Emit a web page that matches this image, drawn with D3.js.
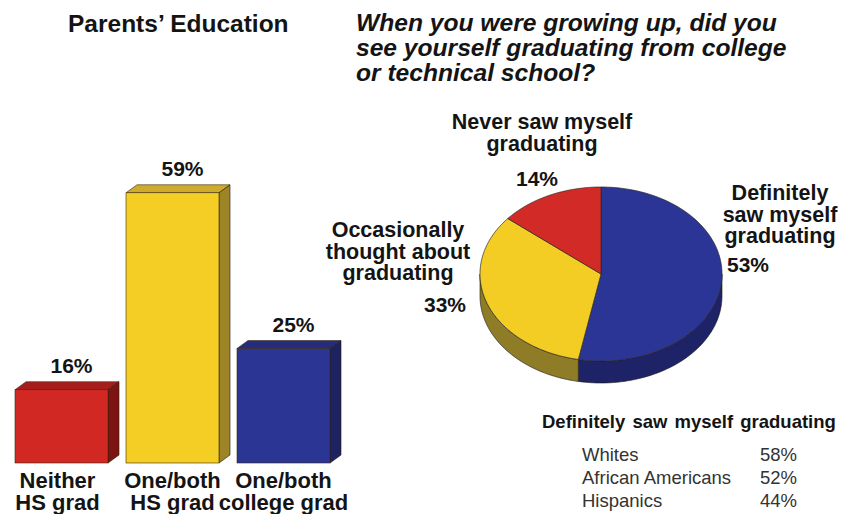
<!DOCTYPE html>
<html>
<head>
<meta charset="utf-8">
<script src="https://cdn.jsdelivr.net/npm/d3@7"></script>
<style>
  html, body { margin: 0; padding: 0; background: #ffffff; }
  svg { display: block; font-family: "Liberation Sans", Arial, sans-serif; }
</style>
</head>
<body>
<svg id="chart" width="843" height="514"></svg>
<script>
// Parents' education (bar chart)
const eduCategories = [["Neither", "HS grad"], ["One/both", "HS grad"], ["One/both", "college grad"]];
const eduValues = [16, 59, 25];
const eduFront = ["#d12824", "#f4cd25", "#2b3594"];
const eduTop = ["#a51e1b", "#cfab2c", "#252c7c"];
const eduSide = ["#7c1512", "#9c8427", "#1c2262"];

// Expectation of graduating (pie chart), drawn clockwise from 12 o'clock
const pieCategories = ["Definitely saw myself graduating", "Occasionally thought about graduating", "Never saw myself graduating"];
const pieValues = [53, 33, 14];
const pieTop = ["#2b3596", "#f4cd24", "#d22a26"];
const pieSide = ["#1e2266", "#8f7c27", "#8a1b18"];

// Breakdown table
const groupNames = ["Whites", "African Americans", "Hispanics"];
const groupValues = [58, 52, 44];

const svg = d3.select("#chart");
const ink = "#141414";

// ---------- titles ----------
svg.append("text")
  .attr("x", 68).attr("y", 32)
  .attr("font-size", 24.5).attr("font-weight", "bold").attr("fill", ink)
  .text("Parents\u2019 Education");

const question = ["When you were growing up, did you", "see yourself graduating from college", "or technical school?"];
svg.append("g").selectAll("text").data(question).join("text")
  .attr("x", 356).attr("y", (d, i) => 31 + i * 25)
  .attr("font-size", 24.6).attr("font-weight", "bold").attr("font-style", "italic").attr("fill", ink)
  .text(d => d);

// ---------- 3D bars ----------
const x = d3.scaleBand().domain(d3.range(eduValues.length)).range([15, 330]).paddingInner(18 / 111).paddingOuter(0);
const y = d3.scaleLinear().domain([0, 100]).range([463, 5]);
const depthX = 11, depthY = 8;

const bars = svg.append("g").selectAll("g").data(eduValues).join("g");
bars.each(function (v, i) {
  const g = d3.select(this);
  const x0 = x(i), x1 = x(i) + x.bandwidth(), yt = y(v), yb = y(0);
  // top face
  g.append("path")
    .attr("d", d3.line()([[x0, yt], [x0 + depthX, yt - depthY], [x1 + depthX, yt - depthY], [x1, yt]]) + "Z")
    .attr("fill", eduTop[i]).attr("stroke", "#3a2a10").attr("stroke-width", 0.6);
  // side face
  g.append("path")
    .attr("d", d3.line()([[x1, yt], [x1 + depthX, yt - depthY], [x1 + depthX, yb - depthY], [x1, yb]]) + "Z")
    .attr("fill", eduSide[i]).attr("stroke", "#2a1a0a").attr("stroke-width", 0.6);
  // front face
  g.append("rect")
    .attr("x", x0).attr("y", yt).attr("width", x.bandwidth()).attr("height", yb - yt)
    .attr("fill", eduFront[i]).attr("stroke", "#3a2a10").attr("stroke-width", 0.6);
  // value label
  g.append("text")
    .attr("x", x0 + x.bandwidth() / 2 + 10).attr("y", yt - 17)
    .attr("text-anchor", "middle").attr("font-size", 21).attr("font-weight", "bold").attr("fill", ink)
    .text(v + "%");
  // category label
  g.append("text")
    .attr("text-anchor", "middle").attr("font-size", 22).attr("font-weight", "bold").attr("fill", ink)
    .selectAll("tspan").data(eduCategories[i]).join("tspan")
    .attr("x", x0 + x.bandwidth() / 2 - (i === 0 ? 4 : 0)).attr("y", (d, k) => 488 + k * 21.5)
    .text(d => d);
});

// ---------- 3D pie ----------
const cx = 601, cy = 274, rx = 121, ry = 87, depth = 22;
const pie = d3.pie().sort(null).startAngle(0).endAngle(2 * Math.PI);
const arcs = pie(pieValues);
const pt = (a, dy = 0) => [cx + rx * Math.sin(a), cy - ry * Math.cos(a) + dy];

// side walls: only the front half (angles between 90deg and 270deg) is visible
const sideG = svg.append("g");
arcs.forEach((a, i) => {
  const s = Math.max(a.startAngle, Math.PI / 2), e = Math.min(a.endAngle, 3 * Math.PI / 2);
  if (e <= s) return;
  const n = 60, top = [], bottom = [];
  for (let k = 0; k <= n; k++) {
    const t = s + (e - s) * k / n;
    top.push(pt(t));
    bottom.push(pt(t, depth));
  }
  sideG.append("path")
    .attr("d", d3.line()(top.concat(bottom.reverse())) + "Z")
    .attr("fill", pieSide[i]).attr("stroke", "#1a1a1a").attr("stroke-width", 0.6);
});

// top faces
const topG = svg.append("g");
arcs.forEach((a, i) => {
  const n = 120, pts = [[cx, cy]];
  for (let k = 0; k <= n; k++) pts.push(pt(a.startAngle + (a.endAngle - a.startAngle) * k / n));
  topG.append("path")
    .attr("d", d3.line()(pts) + "Z")
    .attr("fill", pieTop[i]).attr("stroke", "#2a2a2a").attr("stroke-width", 0.7).attr("stroke-linejoin", "round");
});

// pie labels
const pieLabels = [
  { lines: ["Definitely", "saw myself", "graduating"], x: 780, y: 200, pctX: 727, pctY: 272, anchor: "middle", pctAnchor: "start" },
  { lines: ["Occasionally", "thought about", "graduating"], x: 398, y: 237, pctX: 445, pctY: 312, anchor: "middle", pctAnchor: "middle" },
  { lines: ["Never saw myself", "graduating"], x: 542, y: 129, pctX: 537, pctY: 186, anchor: "middle", pctAnchor: "middle" }
];
pieLabels.forEach((L, i) => {
  svg.append("text")
    .attr("text-anchor", L.anchor).attr("font-size", 21.5).attr("font-weight", "bold").attr("fill", ink)
    .selectAll("tspan").data(L.lines).join("tspan")
    .attr("x", L.x).attr("y", (d, k) => L.y + k * 21.5)
    .text(d => d);
  svg.append("text")
    .attr("x", L.pctX).attr("y", L.pctY)
    .attr("text-anchor", L.pctAnchor).attr("font-size", 21).attr("font-weight", "bold").attr("fill", ink)
    .text(pieValues[i] + "%");
});

// ---------- breakdown table ----------
svg.append("text")
  .attr("x", 542).attr("y", 428)
  .attr("font-size", 18.5).attr("font-weight", "bold").attr("fill", ink)
  .attr("word-spacing", 2)
  .text(pieCategories[0].replace("myself ", "myself  "));

const rows = svg.append("g").selectAll("g").data(groupNames).join("g");
rows.append("text")
  .attr("x", 582).attr("y", (d, i) => 461 + i * 23)
  .attr("font-size", 18.5).attr("fill", "#333")
  .text(d => d);
rows.append("text")
  .attr("x", 797).attr("y", (d, i) => 461 + i * 23)
  .attr("text-anchor", "end").attr("font-size", 18.5).attr("fill", "#333")
  .text((d, i) => groupValues[i] + "%");
</script>
</body>
</html>
